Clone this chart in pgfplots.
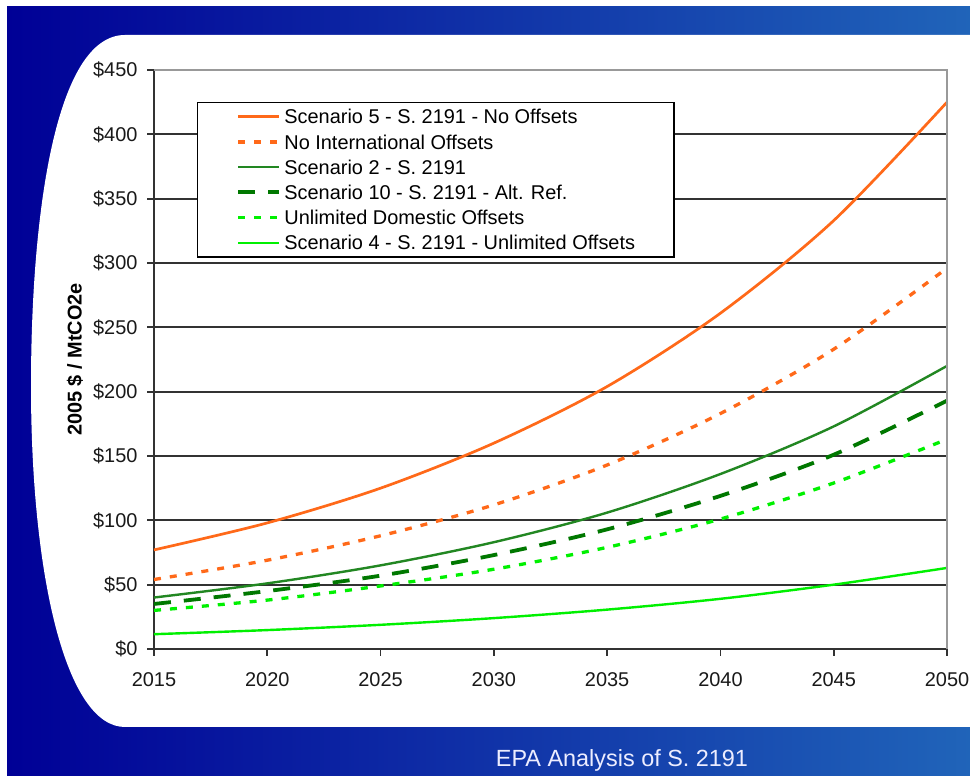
\documentclass[border=0pt]{standalone}
\usepackage{pgfplots}
\usepackage{pgfplotstable}
\pgfplotsset{compat=1.18}
\usepackage{fontspec}
\setmainfont{Liberation Sans}

\definecolor{slideL}{RGB}{0,0,150}
\definecolor{slideR}{RGB}{32,100,185}
\definecolor{sorange}{RGB}{255,105,25}
\definecolor{sgreen}{RGB}{34,135,34}
\definecolor{sdkgreen}{RGB}{0,120,0}
\definecolor{sbright}{RGB}{0,240,0}
\definecolor{gridc}{RGB}{50,50,50}

% Allowance price paths (2005 $ per tCO2e)
\pgfplotstableread{
year  sfive  noint  stwo  sten  unldom  sfour
2015  77     54     40    35    30      11.5
2020  98     69     51    45    38      14.7
2025  125    88     65    57    49      18.8
2030  160    112    83    73    62      24
2035  204    143    106   93    79      30.6
2040  261    183    136   119   101     39
2045  333    233    173   151   129     50
2050  425    296    220   193   163     63
}\prices

\begin{document}
\begin{tikzpicture}[x=1bp,y=1bp]
\useasboundingbox (0,0) rectangle (970,776);
\clip (0,0) rectangle (970,776);
\fill[white] (0,0) rectangle (970,776);
\shade[left color=slideL, right color=slideR] (7,0) rectangle (970,769);
\fill[white] (970,741) -- (125,741) .. controls (55,741) and (31,560) .. (31,390)
  .. controls (31,200) and (66,49) .. (125,49) -- (970,49) -- cycle;
\node[text=white!93!blue, font=\fontsize{23.5}{27}\selectfont, anchor=base] at (622,9) {EPA Analysis of S. 2191};

\begin{axis}[
  at={(154bp,127bp)}, anchor=south west,
  scale only axis, width=793bp, height=579bp,
  xmin=2015, xmax=2050, ymin=0, ymax=450,
  xtick={2015,2020,...,2050}, ytick={0,50,...,450},
  clip=false,
  axis lines*=left,
  axis line style={gridc, line width=1.8bp},
  tick align=outside, major tick length=7bp,
  tick style={gridc, line width=1.8bp},
  ymajorgrids, major grid style={gridc, line width=1.9bp},
  /pgf/number format/fixed,
  /pgf/number format/precision=0,
  /pgf/number format/1000 sep={},
  /pgf/number format/assume math mode=true,
  yticklabel={\$\pgfmathprintnumber{\tick}},
  ticklabel style={font=\fontsize{20}{24}\selectfont, text=black!90},
  xticklabel style={yshift=-13bp},
  yticklabel style={xshift=-6bp},
  ylabel={2005 \$ / MtCO2e},
  ylabel style={font=\bfseries\fontsize{20}{24}\selectfont,
    at={(axis description cs:-0.0996,0.5)}, anchor=center},
  legend cell align=left,
  legend image code/.code={\draw[#1] (0bp,0bp) -- (41bp,0bp);},
  legend style={at={(0.0542,0.9447)}, anchor=north west,
    draw=black, line width=1.2bp, fill=white, font=\fontsize{20}{24}\selectfont,
    inner xsep=39bp, inner ysep=7bp, row sep=10.9bp, column sep=3bp,
    nodes={inner sep=0pt, text height=14.3bp, text depth=0pt, anchor=west}},
]
\addplot[sorange, line width=2.7bp, smooth] table[x=year, y=sfive] {\prices};
\addlegendentry{Scenario 5 - S. 2191 - No Offsets}
\addplot[sorange, line width=3.3bp, dash pattern=on 7bp off 9bp, smooth] table[x=year, y=noint] {\prices};
\addlegendentry{No International Offsets}
\addplot[sgreen, line width=2.4bp, smooth] table[x=year, y=stwo] {\prices};
\addlegendentry{Scenario 2 - S. 2191}
\addplot[sdkgreen, line width=3.8bp, dash pattern=on 17bp off 13bp, smooth] table[x=year, y=sten] {\prices};
\addlegendentry{Scenario 10 - S. 2191 - Alt. Ref.}
\addplot[sbright, line width=3.3bp, dash pattern=on 7bp off 9bp, smooth] table[x=year, y=unldom] {\prices};
\addlegendentry{Unlimited Domestic Offsets}
\addplot[sbright, line width=2.4bp, smooth] table[x=year, y=sfour] {\prices};
\addlegendentry{Scenario 4 - S. 2191 - Unlimited Offsets}
\draw[gray!80, line width=1.6bp] (axis cs:2015,450) -- (axis cs:2050,450) -- (axis cs:2050,0);
\end{axis}
\end{tikzpicture}
\end{document}
